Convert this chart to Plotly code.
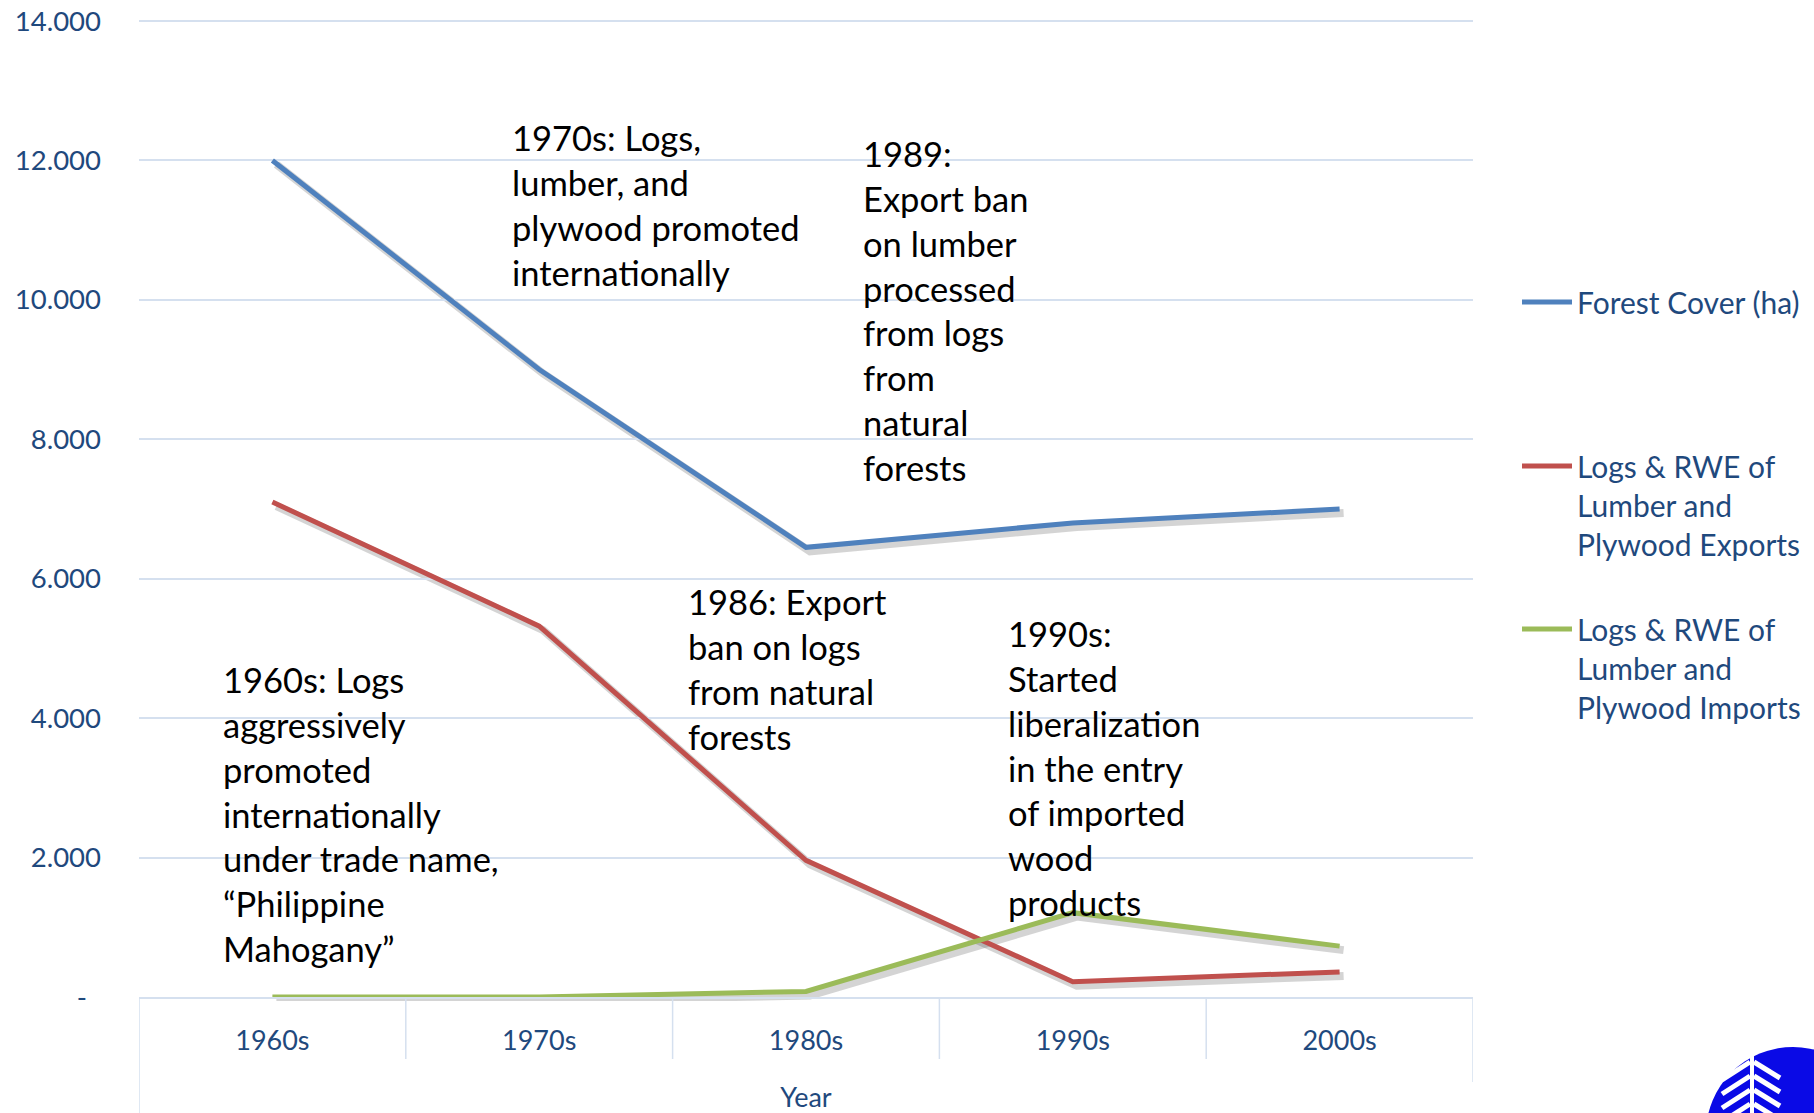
import plotly.graph_objects as go

# ---- data ----
categories = ["1960s", "1970s", "1980s", "1990s", "2000s"]
forest_cover = [12000, 9000, 6450, 6800, 7000]
exports = [7100, 5320, 1960, 220, 360]
imports = [0, 0, 80, 1210, 730]
series_names = ["Forest Cover (ha)",
                "Logs & RWE of<br>Lumber and<br>Plywood Exports",
                "Logs & RWE of<br>Lumber and<br>Plywood Imports"]
series_colors = ["#4F81BD", "#C0504D", "#9BBB59"]
y_tickvals = [0, 2000, 4000, 6000, 8000, 10000, 12000, 14000]
y_ticktext = ["-\u00a0\u00a0", "2.000", "4.000", "6.000", "8.000", "10.000", "12.000", "14.000"]

notes = [
    ("1970s: Logs,<br>lumber, and<br>plywood promoted<br>internationally", 510, 115),
    ("1989:<br>Export ban<br>on lumber<br>processed<br>from logs<br>from<br>natural<br>forests", 861, 131),
    ("1986: Export<br>ban on logs<br>from natural<br>forests", 686, 579),
    ("1990s:<br>Started<br>liberalization<br>in the entry<br>of imported<br>wood<br>products", 1006, 611),
    ("1960s: Logs<br>aggressively<br>promoted<br>internationally<br>under trade name,<br>\u201cPhilippine<br>Mahogany\u201d", 221, 657),
]

W, H = 1814, 1113
SH = 4  # shadow offset px
YMAX = 14000
UNIT = YMAX / 976.0          # data units per px
YTOP = YMAX + 4 * UNIT       # a little headroom so the top gridline is drawn
L, R, T, B = 139, 1473 + SH, 21 - 4, 997 + SH   # total grid area in px
PW, PH = R - L, B - T

def fx(px):
    return (px - L) / PW

def fy(py):
    return (B - py) / PH

TXT = "#1F497D"
GRID = "#D5E0EF"
FONT = "Lato"

fig = go.Figure()
series = [forest_cover, exports, imports]
for vals in series:
    # soft shadow under each line
    fig.add_trace(go.Scatter(x=categories, y=vals, mode="lines", xaxis="x", yaxis="y",
                             line=dict(color="rgba(60,60,60,0.22)", width=8),
                             showlegend=False, hoverinfo="skip"))
for i, (vals, name, col) in enumerate(zip(series, series_names, series_colors)):
    fig.add_trace(go.Scatter(x=categories, y=vals, mode="lines", name=name,
                             xaxis="x2", yaxis="y2",
                             line=dict(color=col, width=5),
                             legend="legend" if i == 0 else f"legend{i+1}"))

common_x = dict(type="category", range=[-0.5, 4.5], showgrid=False, zeroline=False, automargin=False)
common_y = dict(range=[0, YTOP], zeroline=False, automargin=False)

fig.update_layout(
    width=W, height=H,
    margin=dict(l=L, r=W - R, t=T, b=H - B, pad=0, autoexpand=False),
    paper_bgcolor="white", plot_bgcolor="rgba(0,0,0,0)",
    font=dict(family=FONT, color=TXT, size=27),
    xaxis=dict(domain=[SH / PW, 1], visible=False, **common_x),
    yaxis=dict(domain=[0, 1 - SH / PH], visible=False, showgrid=False, **common_y),
    xaxis2=dict(domain=[0, 1 - SH / PW], anchor="y2", showline=True, linecolor=GRID, linewidth=1.5,
                ticks="", ticklabelstandoff=19, tickfont=dict(size=27, color=TXT),
                title=dict(text="Year", font=dict(size=27, color=TXT), standoff=36),
                **common_x),
    yaxis2=dict(domain=[SH / PH, 1], anchor="x2", showgrid=True, gridcolor=GRID, gridwidth=1.5,
                tickvals=y_tickvals, ticktext=y_ticktext, ticks="", ticklabelstandoff=37,
                tickfont=dict(size=27.5, color=TXT), showline=False, **common_y),
    showlegend=True,
)

legend_common = dict(xref="container", yref="container", xanchor="left", yanchor="top",
                     bgcolor="rgba(0,0,0,0)", itemwidth=50,
                     font=dict(family=FONT, size=30, color=TXT), valign="top",
                     itemclick=False, itemdoubleclick=False)
LEGX = 1517 / W
fig.update_layout(
    legend=dict(x=LEGX, y=1 - 276 / H, **legend_common),
    legend2=dict(x=LEGX, y=1 - 440 / H, **legend_common),
    legend3=dict(x=LEGX, y=1 - 603 / H, **legend_common),
)

for text, px, py in notes:
    fig.add_annotation(text=text, x=fx(px), y=fy(py), xref="paper", yref="paper",
                       xanchor="left", yanchor="top", align="left", showarrow=False,
                       font=dict(family=FONT, size=34.5, color="black"))

# category separators below axis
for k in range(len(categories) + 1):
    bottom = 1059
    if k == 0:
        bottom = 1113
    elif k == len(categories):
        bottom = 1082
    fig.add_shape(type="line", xref="x2", yref="paper", x0=k - 0.5, x1=k - 0.5,
                  y0=fy(997), y1=fy(bottom), line=dict(color=GRID, width=1.5))

# logo (decorative) in bottom-right corner
fig.add_shape(type="circle", xref="paper", yref="paper", x0=fx(1706), x1=fx(1880),
              y0=fy(1047), y1=fy(1220), fillcolor="#0A0AE6", line=dict(width=0), layer="above")
fig.add_shape(type="line", xref="paper", yref="paper", x0=fx(1752), x1=fx(1752),
              y0=fy(1054), y1=fy(1113), line=dict(color="white", width=4), layer="above")
for dy in [0, 14, 28, 42]:
    fig.add_shape(type="line", xref="paper", yref="paper", x0=fx(1750), x1=fx(1722),
                  y0=fy(1062 + dy), y1=fy(1080 + dy), line=dict(color="white", width=5), layer="above")
    fig.add_shape(type="line", xref="paper", yref="paper", x0=fx(1754), x1=fx(1780),
                  y0=fy(1062 + dy), y1=fy(1078 + dy), line=dict(color="white", width=5), layer="above")

fig.write_html("out.html", config={"displayModeBar": False},
               post_script="document.body.style.margin='0';document.body.style.overflow='hidden';")
